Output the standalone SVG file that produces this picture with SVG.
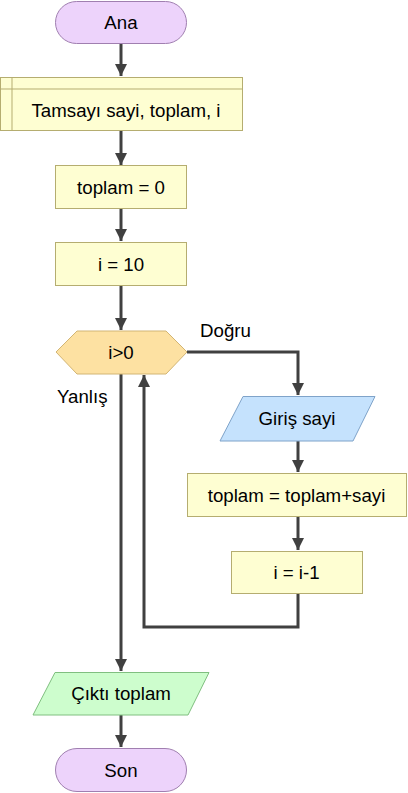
<svg xmlns="http://www.w3.org/2000/svg" width="408" height="793" viewBox="0 0 408 793">
<style>
text{font-family:"Liberation Sans",Arial,sans-serif;font-size:18.7px;fill:#000}
.c{text-anchor:middle}
.term{fill:#edd3fb;stroke:#a07fb0;stroke-width:1}
.proc{fill:#fefed2;stroke:#b5ad70;stroke-width:1}
.dec{fill:#fde1a2;stroke:#d2b574;stroke-width:1}
.in{fill:#c5e2fd;stroke:#7fa3c9;stroke-width:1}
.out{fill:#cdfdcd;stroke:#80bf80;stroke-width:1}
.ln{fill:none;stroke:#404040;stroke-width:3}
</style>
<defs>
<marker id="ah" markerWidth="12" markerHeight="12" refX="10" refY="5" orient="auto" markerUnits="userSpaceOnUse" viewBox="0 0 10 10">
<path d="M0,0 L10,5 L0,10 Z" fill="#404040"/>
</marker>
</defs>
<g id="connectors">
<path class="ln" d="M121,44 V76" marker-end="url(#ah)"/>
<path class="ln" d="M121,131 V165" marker-end="url(#ah)"/>
<path class="ln" d="M121,209 V241" marker-end="url(#ah)"/>
<path class="ln" d="M121,286 V330" marker-end="url(#ah)"/>
<path class="ln" d="M187,352 H298 V395" marker-end="url(#ah)"/>
<path class="ln" d="M298,441 V472" marker-end="url(#ah)"/>
<path class="ln" d="M298,517 V550" marker-end="url(#ah)"/>
<path class="ln" d="M298,594 V627 H144 V375" marker-end="url(#ah)"/>
<path class="ln" d="M121,374 V671" marker-end="url(#ah)"/>
<path class="ln" d="M121,715 V747" marker-end="url(#ah)"/>
</g>
<g id="ana">
<rect class="term" x="55.5" y="1.5" width="131" height="42" rx="21"/>
<text class="c" x="121" y="29">Ana</text>
</g>
<g id="decl">
<rect class="proc" x="0.5" y="77.5" width="242" height="53"/>
<line class="proc" x1="12" y1="77.5" x2="12" y2="130.5"/>
<line class="proc" x1="0.5" y1="89" x2="242.5" y2="89"/>
<text class="c" x="126" y="117">Tamsayı sayi, toplam, i</text>
</g>
<g id="toplam0">
<rect class="proc" x="55.5" y="165.5" width="131" height="43"/>
<text class="c" x="121" y="194">toplam = 0</text>
</g>
<g id="i10">
<rect class="proc" x="55.5" y="242.5" width="131" height="43"/>
<text class="c" x="121" y="271">i = 10</text>
</g>
<g id="cond">
<polygon class="dec" points="56,352 77,331 166,331 187,352 166,374 77,374"/>
<text class="c" x="121" y="359">i&gt;0</text>
</g>
<text x="200" y="337">Doğru</text>
<text x="57" y="403">Yanlış</text>
<g id="giris">
<polygon class="in" points="243,396.5 375,396.5 353,441 220,441"/>
<text class="c" x="297" y="425">Giriş sayi</text>
</g>
<g id="topla">
<rect class="proc" x="187.5" y="473.5" width="219" height="43"/>
<text class="c" x="296.5" y="502">toplam = toplam+sayi</text>
</g>
<g id="dec1">
<rect class="proc" x="231.5" y="551.5" width="131" height="42"/>
<text class="c" x="296.5" y="579">i = i-1</text>
</g>
<g id="cikti">
<polygon class="out" points="55,672.5 209,672.5 188,715 33,715"/>
<text class="c" x="121" y="700">Çıktı toplam</text>
</g>
<g id="son">
<rect class="term" x="55.5" y="748.5" width="131" height="43" rx="21.5"/>
<text class="c" x="121" y="777">Son</text>
</g>
</svg>
